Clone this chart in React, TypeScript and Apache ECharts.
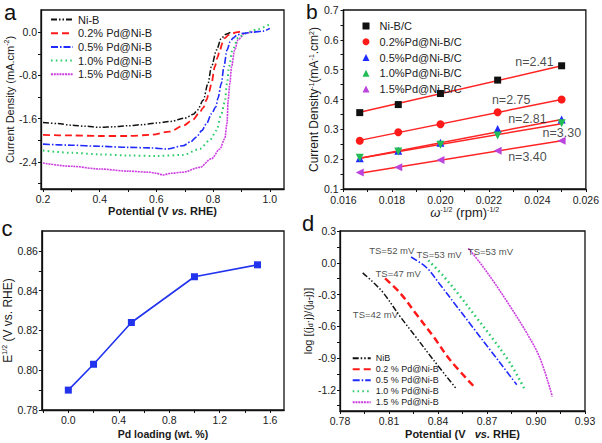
import React, { useEffect, useRef } from 'react';
import * as echarts from 'echarts';

const FONT = '"Liberation Sans", Arial, Helvetica, sans-serif';

// ---------- Panel a : LSV curves [potential (V vs RHE), current density (mA cm-2)]
const aNames = ['Ni-B', '0.2% Pd@Ni-B', '0.5% Pd@Ni-B', '1.0% Pd@Ni-B', '1.5% Pd@Ni-B'];
const aNiB = [[0.2,-1.67],[0.25,-1.69],[0.3,-1.72],[0.35,-1.74],[0.4,-1.76],[0.45,-1.75],[0.5,-1.73],[0.55,-1.71],[0.6,-1.68],[0.65,-1.65],[0.7,-1.59],[0.73,-1.52],[0.745,-1.44],[0.765,-1.26],[0.782,-0.95],[0.794,-0.64],[0.812,-0.33],[0.829,-0.11],[0.845,-0.04],[0.862,0.0]];
const a02 = [[0.2,-1.9],[0.3,-1.91],[0.4,-1.92],[0.5,-1.92],[0.577,-1.9],[0.647,-1.84],[0.694,-1.73],[0.729,-1.62],[0.75,-1.5],[0.765,-1.4],[0.777,-1.25],[0.786,-1.1],[0.794,-0.95],[0.806,-0.64],[0.815,-0.47],[0.824,-0.33],[0.833,-0.2],[0.841,-0.11],[0.855,-0.05],[0.87,-0.02],[0.885,0.0],[0.9,0.02]];
const a05 = [[0.2,-2.07],[0.3,-2.09],[0.4,-2.11],[0.5,-2.13],[0.577,-2.14],[0.64,-2.16],[0.694,-2.1],[0.72,-2.03],[0.741,-1.94],[0.76,-1.82],[0.777,-1.69],[0.794,-1.51],[0.81,-1.38],[0.817,-1.22],[0.829,-0.95],[0.838,-0.64],[0.849,-0.33],[0.86,-0.18],[0.87,-0.11],[0.885,-0.05],[0.906,-0.02],[0.94,0.0],[0.976,0.02],[1.0,0.07]];
const a10 = [[0.2,-2.19],[0.3,-2.23],[0.4,-2.26],[0.5,-2.28],[0.6,-2.29],[0.694,-2.27],[0.753,-2.16],[0.788,-2.0],[0.812,-1.82],[0.829,-1.51],[0.841,-1.3],[0.849,-0.95],[0.856,-0.64],[0.868,-0.33],[0.888,-0.11],[0.91,-0.03],[0.929,0.01],[0.96,0.06],[1.0,0.15]];
const a15 = [[0.2,-2.42],[0.3,-2.48],[0.4,-2.53],[0.5,-2.57],[0.577,-2.59],[0.6,-2.61],[0.624,-2.64],[0.65,-2.61],[0.694,-2.59],[0.753,-2.5],[0.794,-2.34],[0.824,-2.16],[0.841,-1.97],[0.849,-1.69],[0.853,-1.26],[0.859,-0.95],[0.865,-0.64],[0.876,-0.33],[0.888,-0.14],[0.912,-0.02],[0.94,0.01]];
const aXLabels = [0.2, 0.4, 0.6, 0.8, 1.0];
const aXTicks = [0.2, 0.3, 0.4, 0.5, 0.6, 0.7, 0.8, 0.9, 1.0];
const aYLabels = [0.0, -0.8, -1.6, -2.4];
const aYTicks = [0.0, -0.4, -0.8, -1.2, -1.6, -2.0, -2.4, -2.8];

// ---------- Panel b : Koutecky-Levich
const bNames = ['Ni-B/C', '0.2%Pd@Ni-B/C', '0.5%Pd@Ni-B/C', '1.0%Pd@Ni-B/C', '1.5%Pd@Ni-B/C'];
const bX = [0.01667, 0.01826, 0.02, 0.02236, 0.025];
const bNiB = [0.356, 0.383, 0.42, 0.465, 0.513];
const b02 = [0.262, 0.29, 0.317, 0.357, 0.4];
const b05 = [0.203, 0.228, 0.255, 0.301, 0.333];
const b10 = [0.205, 0.226, 0.248, 0.279, 0.32];
const b15 = [0.155, 0.173, 0.197, 0.228, 0.262];
const bFitStart = [0.357, 0.263, 0.203, 0.203, 0.153];
const bFitEnd = [0.513, 0.4, 0.333, 0.319, 0.262];
const bNotes = ['n=2.41', 'n=2.75', 'n=2.81', 'n=3.30', 'n=3.40'];
const bNoteX = [0.02388, 0.02292, 0.02359, 0.02501, 0.02359];
const bNoteY = [0.525, 0.398, 0.335, 0.287, 0.208];
const bXLabels = [0.016, 0.018, 0.02, 0.022, 0.024, 0.026];
const bXTicks = [0.016, 0.017, 0.018, 0.019, 0.02, 0.021, 0.022, 0.023, 0.024, 0.025, 0.026];
const bYLabels = [0.1, 0.2, 0.3, 0.4, 0.5, 0.6, 0.7];
const bYTicks = [0.1, 0.15, 0.2, 0.25, 0.3, 0.35, 0.4, 0.45, 0.5, 0.55, 0.6, 0.65, 0.7];

// ---------- Panel c : half-wave potential vs Pd loading
const cX = [0.0, 0.2, 0.5, 1.0, 1.5];
const cE = [0.79, 0.803, 0.824, 0.847, 0.853];
const cXLabels = [0.0, 0.4, 0.8, 1.2, 1.6];
const cXTicks = [-0.2, 0.0, 0.2, 0.4, 0.6, 0.8, 1.0, 1.2, 1.4, 1.6];
const cYLabels = [0.78, 0.8, 0.82, 0.84, 0.86];
const cYTicks = [0.78, 0.79, 0.8, 0.81, 0.82, 0.83, 0.84, 0.85, 0.86];

// ---------- Panel d : Tafel-type plots
const dNames = ['NiB', '0.2 % Pd@Ni-B', '0.5 % Pd@Ni-B', '1.0 % Pd@Ni-B', '1.5 % Pd@Ni-B'];
const dNiB = [[0.7939,-0.095],[0.8,-0.18],[0.8065,-0.284],[0.8167,-0.505],[0.8269,-0.71],[0.8371,-0.916],[0.8514,-1.194]];
const d02 = [[0.8076,-0.148],[0.8167,-0.284],[0.8269,-0.489],[0.8371,-0.695],[0.8473,-0.916],[0.8616,-1.162]];
const d05 = [[0.8235,0.054],[0.8331,-0.047],[0.8412,-0.205],[0.8514,-0.41],[0.8616,-0.616],[0.8718,-0.821],[0.882,-1.026],[0.8882,-1.152]];
const d10 = [[0.8341,0.022],[0.8433,-0.126],[0.8535,-0.316],[0.8637,-0.521],[0.8739,-0.726],[0.8841,-0.947],[0.8927,-1.184]];
const d15 = [[0.8586,0.136],[0.8657,0.0],[0.8739,-0.174],[0.8841,-0.41],[0.8943,-0.663],[0.9024,-0.9],[0.91,-1.263]];
const dNotes = ['TS=52 mV', 'TS=53 mV', 'TS=53 mV', 'TS=47 mV', 'TS=42 mV'];
const dNoteX = [0.8117, 0.8407, 0.8721, 0.8156, 0.8017];
const dNoteY = [0.12, 0.079, 0.111, -0.101, -0.489];
const dXLabels = [0.78, 0.81, 0.84, 0.87, 0.9, 0.93];
const dXTicks = [0.78, 0.795, 0.81, 0.825, 0.84, 0.855, 0.87, 0.885, 0.9, 0.915, 0.93];
const dYLabels = [0.3, 0.0, -0.3, -0.6, -0.9, -1.2];
const dYTicks = [0.3, 0.15, 0.0, -0.15, -0.3, -0.45, -0.6, -0.75, -0.9, -1.05, -1.2, -1.35];

// ---------- styles
const lineColors = ['#111111', '#ff1a1a', '#1f2bff', '#2ecc6a', '#cc3fe0'];
const lineDashes: any[] = [[6, 2, 1.5, 2, 1.5, 2], [7, 4], [7, 2, 1.5, 2], [1.6, 3.2], [2, 0.8]];
const aWidths = [1.5, 1.8, 1.6, 2, 1.6];
const dWidths = [1.5, 2.5, 1.6, 2.5, 1.6];
const markerColors = ['#111111', '#ff1a1a', '#1f2bff', '#22bb55', '#bb44dd'];
const markerSymbols = ['rect', 'circle', 'triangle', 'triangle', 'triangle'];
const markerRotate = [0, 0, 0, 180, 90];

const grids = [
  { left: 41, top: 10, width: 243, height: 179 },
  { left: 343.5, top: 10, width: 243, height: 179 },
  { left: 41, top: 231, width: 243, height: 179 },
  { left: 340, top: 231, width: 245, height: 180 },
];

const TEXT = '#1a1a1a';

function valAxis(gridIndex: number, min: number, max: number, labels: number[], ticks: number[], digits: number, extra: any, margin = 4) {
  return {
    type: 'value',
    gridIndex,
    min,
    max,
    axisLine: { show: true, onZero: false, lineStyle: { color: '#111', width: 1.3 } },
    axisTick: { show: true, inside: false, length: 3, customValues: ticks, lineStyle: { color: '#111', width: 1 } },
    axisLabel: {
      show: true,
      customValues: labels,
      formatter: (v: any) => Number(v).toFixed(digits),
      fontSize: 10.5,
      color: TEXT,
      fontFamily: FONT,
      margin,
    },
    splitLine: { show: false },
    nameLocation: 'middle',
    ...extra,
  };
}

const sup = { fontSize: 7, padding: [0, 0, 6, 0], fontFamily: FONT, color: TEXT };

const option: any = {
  animation: false,
  backgroundColor: '#ffffff',
  textStyle: { fontFamily: FONT },
  grid: grids.map((g) => ({ ...g, show: true, borderColor: '#111', borderWidth: 1.3, backgroundColor: 'transparent', containLabel: false })),
  xAxis: [
    valAxis(0, 0.193, 1.05, aXLabels, aXTicks, 1, {
      name: '{b|Potential (V }{bi|vs.}{b| RHE)}',
      nameGap: 16,
      nameTextStyle: {
        rich: {
          b: { fontSize: 11, fontWeight: 'bold', fontFamily: FONT, color: TEXT },
          bi: { fontSize: 11, fontWeight: 'bold', fontStyle: 'italic', fontFamily: FONT, color: TEXT },
        },
      },
    }),
    valAxis(1, 0.016, 0.026, bXLabels, bXTicks, 3, {
      name: '{w|ω}{s|-1/2}{n| (rpm)}{s|-1/2}',
      nameGap: 12,
      nameTextStyle: {
        rich: {
          w: { fontSize: 13, fontStyle: 'italic', fontFamily: FONT, color: TEXT },
          n: { fontSize: 13, fontFamily: FONT, color: TEXT },
          s: sup,
        },
      },
    }, 5),
    valAxis(2, -0.21, 1.71, cXLabels, cXTicks, 1, {
      name: 'Pd loading (wt. %)',
      nameGap: 18,
      nameTextStyle: { fontSize: 10.5, fontWeight: 'bold', fontFamily: FONT, color: TEXT },
    }),
    valAxis(3, 0.78, 0.93, dXLabels, dXTicks, 2, {
      name: '{b|Potential (V   }{bi|vs.}{b| RHE)}',
      nameGap: 17,
      nameTextStyle: {
        rich: {
          b: { fontSize: 11, fontWeight: 'bold', fontFamily: FONT, color: TEXT },
          bi: { fontSize: 11, fontWeight: 'bold', fontStyle: 'italic', fontFamily: FONT, color: TEXT },
        },
      },
    }),
  ],
  yAxis: [
    valAxis(0, -2.9, 0.41, aYLabels, aYTicks, 1, {
      name: '{n|Current Density (mA.cm}{s|-2}{n|)}',
      nameRotate: 90,
      nameGap: 25,
      nameTextStyle: { rich: { n: { fontSize: 11, fontFamily: FONT, color: TEXT }, s: sup } },
    }),
    valAxis(1, 0.1, 0.7, bYLabels, bYTicks, 1, {
      name: '{n|Current Density}{s|-1}{n|(mA}{s|-1}{n|.cm}{s|2}{n|)}',
      nameRotate: 90,
      nameGap: 20,
      nameTextStyle: { rich: { n: { fontSize: 12, fontFamily: FONT, color: TEXT }, s: sup } },
    }, 5),
    valAxis(2, 0.78, 0.87, cYLabels, cYTicks, 2, {
      name: '{n|E}{s|1/2}{n| (V vs. RHE)}',
      nameRotate: 90,
      nameGap: 26,
      nameTextStyle: { rich: { n: { fontSize: 12, fontFamily: FONT, color: TEXT }, s: sup } },
    }),
    valAxis(3, -1.4, 0.3, dYLabels, dYTicks, 1, {
      name: '{n|log [(j}{d|d}{n|·j)/(j}{d|d}{n|-j)]}',
      nameRotate: 90,
      nameGap: 26,
      nameTextStyle: {
        rich: {
          n: { fontSize: 11, fontFamily: FONT, color: TEXT },
          d: { fontSize: 7, padding: [5, 0, 0, 0], fontFamily: FONT, color: TEXT },
        },
      },
    }),
  ],
  legend: [
    {
      data: aNames,
      orient: 'vertical',
      left: 50,
      top: 14,
      padding: 0,
      itemWidth: 22,
      itemHeight: 10,
      itemGap: 2.7,
      itemStyle: { opacity: 0 },
      textStyle: { fontSize: 11, fontFamily: FONT, color: TEXT, lineHeight: 10 },
    },
    {
      data: bNames,
      orient: 'vertical',
      left: 362.5,
      top: 20.5,
      padding: 0,
      itemWidth: 7,
      itemHeight: 7,
      itemGap: 4.75,
      textStyle: { fontSize: 11, fontFamily: FONT, color: TEXT, lineHeight: 7, padding: [0, 0, 0, 5] },
    },
    {
      data: dNames,
      orient: 'vertical',
      left: 351.7,
      top: 353.7,
      padding: 0,
      itemWidth: 18,
      itemHeight: 8,
      itemGap: 2,
      itemStyle: { opacity: 0 },
      textStyle: { fontSize: 9, fontFamily: FONT, color: TEXT, lineHeight: 8 },
    },
  ],
  graphic: [
    { type: 'text', x: 4, y: 12.4, style: { text: 'a', fontSize: 22, fontFamily: FONT, fill: '#111', verticalAlign: 'middle' } },
    { type: 'text', x: 306, y: 11.8, style: { text: 'b', fontSize: 21, fontFamily: FONT, fill: '#111', verticalAlign: 'middle' } },
    { type: 'text', x: 1.5, y: 228.4, style: { text: 'c', fontSize: 22, fontFamily: FONT, fill: '#111', verticalAlign: 'middle' } },
    { type: 'text', x: 302, y: 223.4, style: { text: 'd', fontSize: 22, fontFamily: FONT, fill: '#111', verticalAlign: 'middle' } },
  ],
  series: [] as any[],
};

// panel a lines
[aNiB, a02, a05, a10, a15].forEach((d, i) => {
  option.series.push({
    type: 'line',
    name: aNames[i],
    xAxisIndex: 0,
    yAxisIndex: 0,
    data: d,
    symbol: 'none',
    showSymbol: false,
    smooth: 0.3,
    smoothMonotone: 'x',
    color: lineColors[i],
    lineStyle: { color: lineColors[i], width: aWidths[i], type: lineDashes[i] },
    z: 3 + (4 - i),
  });
});

// panel b fits + markers
const bSets = [bNiB, b02, b05, b10, b15];
bSets.forEach((_, i) => {
  option.series.push({
    type: 'line',
    name: 'fit' + i,
    xAxisIndex: 1,
    yAxisIndex: 1,
    data: [[bX[0], bFitStart[i]], [bX[bX.length - 1], bFitEnd[i]]],
    symbol: 'none',
    lineStyle: { color: '#ff2424', width: 1.5 },
    z: 2,
  });
});
bSets.forEach((ys, i) => {
  option.series.push({
    type: 'scatter',
    name: bNames[i],
    xAxisIndex: 1,
    yAxisIndex: 1,
    data: bX.map((x, j) => [x, ys[j]]),
    symbol: markerSymbols[i],
    symbolRotate: markerRotate[i],
    symbolSize: i === 0 ? 7 : 8,
    itemStyle: { color: markerColors[i], opacity: 1 },
    color: markerColors[i],
    z: 4,
  });
});
option.series.push({
  type: 'scatter',
  name: 'bNotes',
  xAxisIndex: 1,
  yAxisIndex: 1,
  symbol: 'circle',
  symbolSize: 1,
  itemStyle: { color: 'rgba(0,0,0,0)' },
  data: bNotes.map((t, i) => ({ name: t, value: [bNoteX[i], bNoteY[i]] })),
  label: { show: true, position: 'inside', formatter: (p: any) => p.name, fontSize: 12.5, fontFamily: FONT, color: TEXT },
  silent: true,
  z: 5,
});

// panel c
option.series.push({
  type: 'line',
  name: 'E12',
  xAxisIndex: 2,
  yAxisIndex: 2,
  data: cX.map((x, i) => [x, cE[i]]),
  symbol: 'rect',
  symbolSize: 7,
  color: '#2233ee',
  itemStyle: { color: '#2233ee' },
  lineStyle: { color: '#2233ee', width: 1.6 },
});

// panel d
[dNiB, d02, d05, d10, d15].forEach((d, i) => {
  option.series.push({
    type: 'line',
    name: dNames[i],
    xAxisIndex: 3,
    yAxisIndex: 3,
    data: d,
    symbol: 'none',
    showSymbol: false,
    smooth: 0.35,
    color: lineColors[i],
    lineStyle: { color: lineColors[i], width: dWidths[i], type: lineDashes[i] },
  });
});
option.series.push({
  type: 'scatter',
  name: 'dNotes',
  xAxisIndex: 3,
  yAxisIndex: 3,
  symbol: 'circle',
  symbolSize: 1,
  itemStyle: { color: 'rgba(0,0,0,0)' },
  data: dNotes.map((t, i) => ({ name: t, value: [dNoteX[i], dNoteY[i]] })),
  label: { show: true, position: 'inside', formatter: (p: any) => p.name, fontSize: 9.5, fontFamily: FONT, color: TEXT },
  silent: true,
  z: 5,
});

export default function App() {
  const ref = useRef<HTMLDivElement>(null);
  useEffect(() => {
    const chart = echarts.init(ref.current as HTMLDivElement, null, { renderer: 'svg' });
    chart.setOption(option);
    return () => chart.dispose();
  }, []);
  return <div ref={ref} style={{ position: 'fixed', left: 0, top: 0, width: 602, height: 443, background: '#fff' }} />;
}
